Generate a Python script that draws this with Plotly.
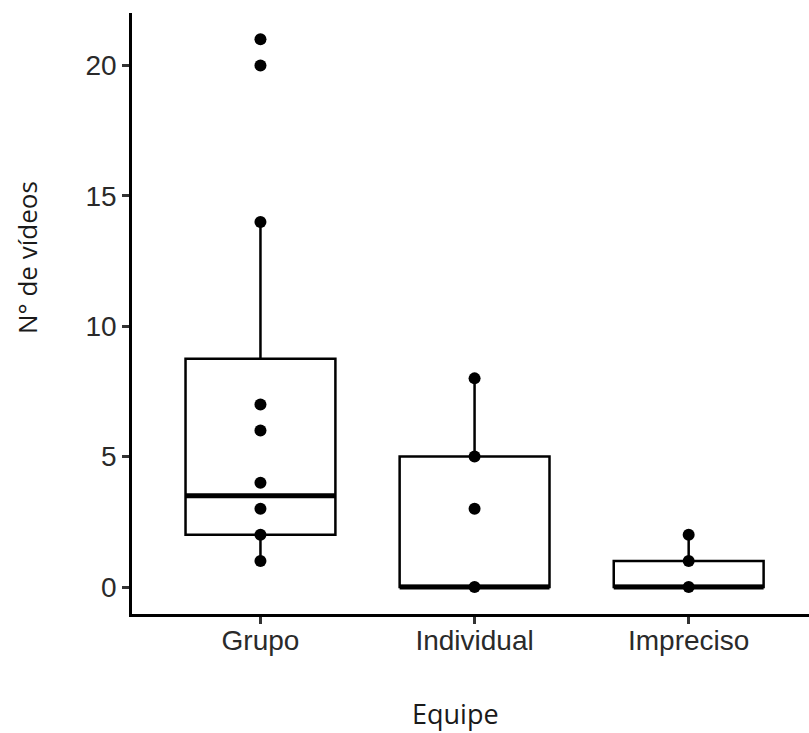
import plotly.graph_objects as go

# Teams on the x axis
categories = ["Grupo", "Individual", "Impreciso"]
positions = [1, 2, 3]

# Box summary per team (Q1, median, Q3, whisker ends)
q1 = [2, 0, 0]
median = [3.5, 0, 0]
q3 = [8.75, 5, 1]
lower_whisker = [1, 0, 0]
upper_whisker = [14, 8, 2]

# Observed counts per team
grupo_values = [1, 2, 3, 4, 6, 7, 14, 20, 21]
individual_values = [0, 3, 5, 8]
impreciso_values = [0, 1, 2]

y_ticks = [0, 5, 10, 15, 20]

BOX_WIDTH = 0.7
W, H = 809, 733
ML, MR, MT, MB = 132, 0, 13, 119
PW, PH = W - ML - MR, H - MT - MB

fig = go.Figure()

fig.add_trace(go.Box(
    x=positions, q1=q1, median=median, q3=q3,
    lowerfence=lower_whisker, upperfence=upper_whisker,
    width=BOX_WIDTH, boxpoints=False, whiskerwidth=0,
    fillcolor="white", line=dict(color="black", width=2.5),
    showlegend=False, hoverinfo="skip",
))

# thicker median bars on top of the boxes
mx, my = [], []
for p, m in zip(positions, median):
    mx += [p - BOX_WIDTH / 2, p + BOX_WIDTH / 2, None]
    my += [m, m, None]
fig.add_trace(go.Scatter(
    x=mx, y=my, mode="lines", line=dict(color="black", width=5),
    showlegend=False, hoverinfo="skip",
))

groups = [grupo_values, individual_values, impreciso_values]
px, py = [], []
for p, vals in zip(positions, groups):
    px += [p] * len(vals)
    py += vals
fig.add_trace(go.Scatter(
    x=px, y=py, mode="markers",
    marker=dict(color="black", size=12),
    showlegend=False,
))

tick_font = dict(family="Liberation Sans, Arial, sans-serif", size=28, color="#2a2a2a")
title_font = dict(family="Open Sans, sans-serif", size=27, color="#1a1a1a")

fig.update_layout(
    width=W, height=H,
    margin=dict(l=ML, r=MR, t=MT, b=MB, pad=0),
    paper_bgcolor="white", plot_bgcolor="white",
    xaxis=dict(
        range=[0.4, 3.562], tickvals=positions, ticktext=categories,
        showgrid=False, zeroline=False,
        showline=True, linecolor="black", linewidth=2.5,
        ticks="outside", ticklen=7, tickwidth=2.5, tickcolor="#333333",
        tickfont=tick_font, ticklabelstandoff=-7,
    ),
    yaxis=dict(
        range=[-1.035, 22.01], tickvals=y_ticks,
        showgrid=False, zeroline=False,
        showline=True, linecolor="black", linewidth=2.5,
        ticks="outside", ticklen=7, tickwidth=2.5, tickcolor="#333333",
        tickfont=tick_font, ticklabelstandoff=0,
    ),
    annotations=[
        dict(text="Equipe", xref="paper", yref="paper",
             x=(455 - ML) / PW, y=(H - MB - 713) / PH,
             xanchor="center", yanchor="middle", showarrow=False, font=title_font),
        dict(text="N° de vídeos", xref="paper", yref="paper",
             x=(27 - ML) / PW, y=(H - MB - 258) / PH, textangle=-90,
             xanchor="center", yanchor="middle",
             showarrow=False, font=dict(title_font, size=26)),
    ],
)

fig.write_html("out.html")
